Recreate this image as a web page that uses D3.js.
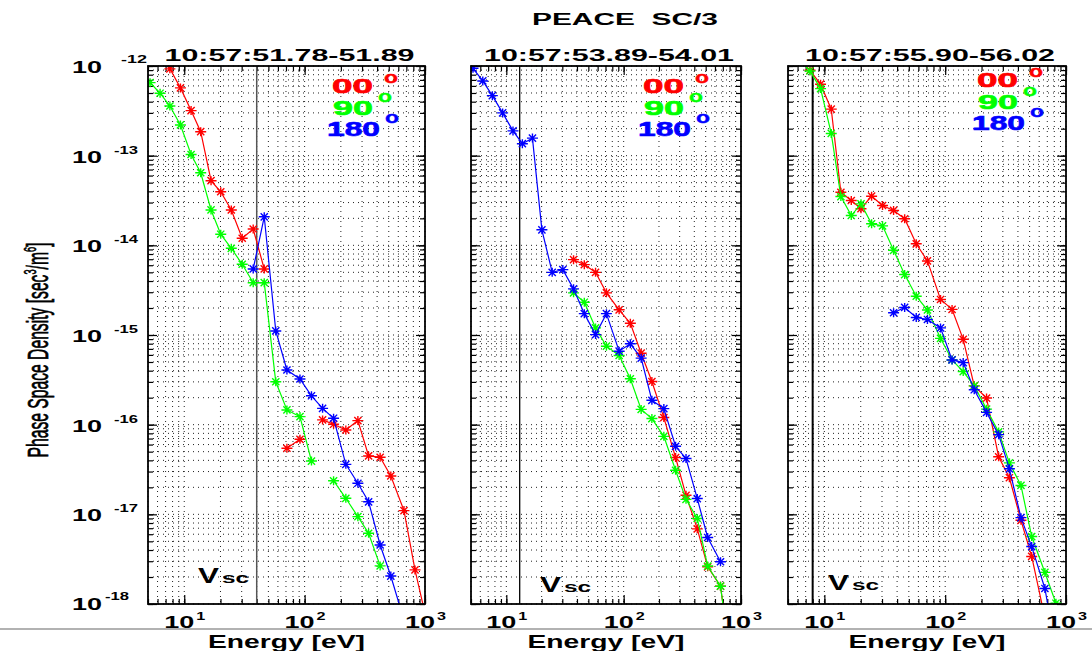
<!DOCTYPE html>
<html>
<head>
<meta charset="utf-8">
<script src="https://cdn.jsdelivr.net/npm/d3@7"></script>
<style>
  html, body { margin: 0; padding: 0; background: #fff; }
  svg { display: block; }
  text { font-family: "Liberation Sans", Arial, sans-serif; }
</style>
</head>
<body>
<script>
// ---------------- DATA ----------------
const title = "PEACE  SC/3";
const panelTimes = ["10:57:51.78-51.89", "10:57:53.89-54.01", "10:57:55.90-56.02"];
const energies = [5.2, 6.3, 7.6, 9.3, 11.4, 13.7, 16.7, 20.1, 24.6, 30.3, 37.4, 46.2, 57.6,
                  71.3, 91.5, 114, 141, 174, 220, 277, 340, 424, 520, 669, 826, 1020];
const vscEnergy = [40, 13, 8];
const seriesNames = ["00", "90", "180"];
const seriesColors = ["#ff0000", "#00ff00", "#0000ff"];
const xTickExponents = [1, 2, 3];
const yTickExponents = [-12, -13, -14, -15, -16, -17, -18];
const xLabel = "Energy [eV]";
const yLabel = "Phase Space Density [sec";

// panel 1 (10:57:51.78-51.89)
const red1 = [null, null, 9.3e-13, 5.7e-13, 3.18e-13, 1.85e-13, 5.26e-14, 3.96e-14, 2.48e-14, 1.2e-14,
  1.52e-14, 5.45e-15, null, 5.46e-17, 6.87e-17, null, 1.13e-16, 1.01e-16, 8.72e-17, 1.11e-16,
  4.48e-17, 4.33e-17, 2.68e-17, 1.1e-17, 2.4e-18, 7e-19];
const green1 = [6.52e-13, 4.97e-13, 3.58e-13, 2.2e-13, 1.03e-13, 6.45e-14, 2.48e-14, 1.33e-14, 9.27e-15, 6.15e-15,
  3.83e-15, 3.83e-15, 3.01e-16, 1.46e-16, 1.23e-16, 3.93e-17, null, 2.37e-17, 1.51e-17, 9.42e-18,
  6.15e-18, 2.66e-18, null, null, null, null];
const blue1 = [null, null, null, null, null, null, null, null, null, null,
  5.45e-15, 2.08e-14, 1.11e-15, 4.07e-16, 3.23e-16, 2.1e-16, 1.52e-16, 1.18e-16, 3.61e-17, 2.22e-17,
  1.38e-17, 4.55e-18, 2.05e-18, 6.6e-19, null, null];
// panel 2 (10:57:53.89-54.01)
const red2 = [null, null, null, null, null, null, null, null, null, null,
  6.92e-15, 6.09e-15, 5.0e-15, 2.95e-15, 1.91e-15, 1.35e-15, 6.27e-16, 3.03e-16, 1.2e-16, 4.3e-17,
  1.63e-17, 6.89e-18, 2.6e-18, 1.58e-18, 2e-19, null];
const green2 = [null, null, null, null, null, null, null, null, null, null,
  2.95e-15, 2.32e-15, 1.2e-15, 7.5e-16, 5.91e-16, 3.25e-16, 1.48e-16, 1.17e-16, 7.41e-17, 3.1e-17,
  1.47e-17, 9.0e-18, 2.65e-18, 1.58e-18, 2e-19, null];
const blue2 = [9.43e-13, 6.81e-13, 4.67e-13, 3.0e-13, 1.89e-13, 1.36e-13, 1.57e-13, 1.49e-14, 5.0e-15, 5.36e-15,
  3.27e-15, 1.73e-15, 1.01e-15, 1.73e-15, 6.6e-16, 7.98e-16, 5.52e-16, 1.87e-16, 1.51e-16, 5.74e-17,
  4.19e-17, 1.5e-17, 5.52e-18, 2.96e-18, null, null];
// panel 3 (10:57:55.90-56.02)
const red3 = [null, 1.15e-12, 8.96e-13, 6.27e-13, 3.3e-13, 3.91e-14, 3.16e-14, 2.56e-14, 3.53e-14, 2.78e-14,
  2.45e-14, 1.98e-14, 1.04e-14, 6.7e-15, 2.49e-15, 1.93e-15, 8.95e-16, 2.71e-16, 1.98e-16, 4.38e-17,
  2.56e-17, 8.58e-18, 3.39e-18, 7e-19, null, null];
const green3 = [null, 1.15e-12, 8.8e-13, 5.6e-13, 1.77e-13, 3.5e-14, 2.15e-14, 2.9e-14, 1.74e-14, 1.65e-14,
  8.8e-15, 4.72e-15, 2.71e-15, 1.9e-15, 9.18e-16, 5.27e-16, 3.91e-16, 2.71e-16, 1.49e-16, 8.3e-17,
  3.75e-17, 2.1e-17, 5.65e-18, 2.25e-18, 1.02e-18, null];
const blue3 = [null, null, null, null, null, null, null, null, null, null,
  1.77e-15, 2.03e-15, 1.57e-15, 1.49e-15, 1.2e-15, 5.27e-16, 4.92e-16, 2.45e-16, 1.37e-16, 7.74e-17,
  3.22e-17, 9.18e-18, 4.37e-18, 1.49e-18, 3e-19, null];

const panelSeries = [[red1, green1, blue1], [red2, green2, blue2], [red3, green3, blue3]];

// ---------------- LAYOUT ----------------
const W = 1092, H = 651;
const TOP = 66, BOTTOM = 604;
const panels = [
  { left: 148, right: 425, legX: 332, legY: 93, vscDx: 50, vscY: 583, vscColor: "#555", vscW: 1.5 },
  { left: 471, right: 741, legX: 643, legY: 93, vscDx: 69, vscY: 592, vscColor: "#000", vscW: 1.3 },
  { left: 788, right: 1066, legX: 977, legY: 87, vscDx: 40, vscY: 590, vscColor: "#000", vscW: 2 }
];

const svg = d3.select("body").append("svg").attr("width", W).attr("height", H);
svg.append("rect").attr("width", W).attr("height", H).attr("fill", "#fff");

// title
svg.append("text").attr("x", 625).attr("y", 25).attr("text-anchor", "middle")
  .attr("font-size", 16).attr("font-weight", "bold").attr("textLength", 186)
  .attr("lengthAdjust", "spacingAndGlyphs").style("white-space", "pre").text(title);

// separator line
svg.append("line").attr("x1", 0).attr("x2", W).attr("y1", 629).attr("y2", 629)
  .attr("stroke", "#999").attr("stroke-width", 1.5);

const starPath = "M-5.5,0H5.5M0,-4.5V4.5M-3.6,-3.6L3.6,3.6M-3.6,3.6L3.6,-3.6";

function minorValues(lo, hi) {
  const out = [];
  for (let e = Math.floor(Math.log10(lo)); e <= Math.ceil(Math.log10(hi)); e++) {
    for (let k = 1; k <= 9; k++) {
      const v = k * Math.pow(10, e);
      if (v >= lo * 0.999 && v <= hi * 1.001) out.push(v);
    }
  }
  return out;
}

panels.forEach((p, pi) => {
  const x = d3.scaleLog().domain([5, 1000]).range([p.left, p.right]);
  const y = d3.scaleLog().domain([1e-18, 1e-12]).range([BOTTOM, TOP]);
  const g = svg.append("g");

  const xAll = minorValues(5, 1000);
  const yAll = minorValues(1e-18, 1e-12);
  const xMajor = xAll.filter(v => Math.abs(Math.log10(v) - Math.round(Math.log10(v))) < 1e-9);
  const yMajor = yAll.filter(v => Math.abs(Math.log10(v) - Math.round(Math.log10(v))) < 1e-9);

  // dotted grid
  g.append("g").selectAll("line").data(xAll).join("line")
    .attr("x1", d => x(d)).attr("x2", d => x(d)).attr("y1", TOP).attr("y2", BOTTOM)
    .attr("stroke", "#222").attr("stroke-width", 1).attr("stroke-dasharray", "1,4");
  g.append("g").selectAll("line").data(yAll).join("line")
    .attr("y1", d => y(d)).attr("y2", d => y(d)).attr("x1", p.left).attr("x2", p.right)
    .attr("stroke", "#222").attr("stroke-width", 1).attr("stroke-dasharray", "1,4");

  // ticks (inward) via d3 axes
  const axMinorLen = 5, axMajorLen = 9;
  const mkAxis = (axisFn, scale, vals, len, tx, ty) => {
    const a = g.append("g").attr("transform", `translate(${tx},${ty})`)
      .call(axisFn(scale).tickValues(vals).tickSize(len).tickFormat(""));
    a.select(".domain").remove();
    a.selectAll("line").attr("stroke", "#000").attr("stroke-width", 1.2);
  };
  mkAxis(d3.axisLeft, y, yAll, -axMinorLen, p.left, 0);
  mkAxis(d3.axisLeft, y, yMajor, -axMajorLen, p.left, 0);
  mkAxis(d3.axisRight, y, yAll, -axMinorLen, p.right, 0);
  mkAxis(d3.axisRight, y, yMajor, -axMajorLen, p.right, 0);
  mkAxis(d3.axisBottom, x, xAll, -axMinorLen, 0, BOTTOM);
  mkAxis(d3.axisBottom, x, xMajor, -axMajorLen, 0, BOTTOM);
  mkAxis(d3.axisTop, x, xAll, -axMinorLen, 0, TOP);
  mkAxis(d3.axisTop, x, xMajor, -axMajorLen, 0, TOP);

  // Vsc line
  g.append("line").attr("x1", x(vscEnergy[pi])).attr("x2", x(vscEnergy[pi]))
    .attr("y1", TOP).attr("y2", BOTTOM).attr("stroke", p.vscColor).attr("stroke-width", p.vscW);

  // clip
  const clipId = "clip" + pi;
  svg.append("clipPath").attr("id", clipId).append("rect")
    .attr("x", p.left).attr("y", TOP).attr("width", p.right - p.left).attr("height", BOTTOM - TOP);
  const dg = g.append("g").attr("clip-path", `url(#${clipId})`);

  panelSeries[pi].forEach((vals, si) => {
    const pts = energies.map((e, i) => ({ e: e, v: vals[i] }));
    const line = d3.line().defined(d => d.v != null).x(d => x(d.e)).y(d => y(d.v));
    dg.append("path").attr("d", line(pts)).attr("fill", "none")
      .attr("stroke", seriesColors[si]).attr("stroke-width", 1.2);
    dg.append("g").selectAll("path").data(pts.filter(d => d.v != null)).join("path")
      .attr("transform", d => `translate(${x(d.e)},${y(d.v)})`)
      .attr("d", starPath).attr("fill", "none")
      .attr("stroke", seriesColors[si]).attr("stroke-width", 1.4);
  });

  // frame
  g.append("rect").attr("x", p.left).attr("y", TOP).attr("width", p.right - p.left)
    .attr("height", BOTTOM - TOP).attr("fill", "none").attr("stroke", "#000").attr("stroke-width", 1.8);

  // subtitle
  svg.append("text").attr("x", (p.left + p.right) / 2 + 3).attr("y", 61)
    .attr("text-anchor", "middle").attr("font-size", 17).attr("font-weight", "bold")
    .attr("textLength", 250).attr("lengthAdjust", "spacingAndGlyphs").text(panelTimes[pi]);

  // legend
  const legOff = [{ dx: 0, dy: 0, w: 41, odx: 52, ody: -10 },
                  { dx: 1, dy: 22, w: 40, odx: 46, ody: 9 },
                  { dx: -5, dy: 43, w: 53, odx: 53, ody: 30 }];
  seriesNames.forEach((nm, si) => {
    const o = legOff[si];
    svg.append("text").attr("x", p.legX + o.dx).attr("y", p.legY + o.dy)
      .attr("font-size", 20).attr("font-weight", "bold").attr("fill", seriesColors[si])
      .attr("stroke", seriesColors[si]).attr("stroke-width", 0.6)
      .attr("textLength", o.w).attr("lengthAdjust", "spacingAndGlyphs").text(nm);
    svg.append("text").attr("x", p.legX + o.odx).attr("y", p.legY + o.ody)
      .attr("font-size", 17).attr("font-weight", "bold").attr("fill", seriesColors[si])
      .attr("stroke", seriesColors[si]).attr("stroke-width", 0.4)
      .attr("textLength", 14).attr("lengthAdjust", "spacingAndGlyphs").text("o");
  });

  // Vsc label
  const vx = p.left + p.vscDx;
  svg.append("text").attr("x", vx).attr("y", p.vscY).attr("font-size", 22)
    .attr("font-weight", "bold").attr("textLength", 21).attr("lengthAdjust", "spacingAndGlyphs").text("V");
  svg.append("text").attr("x", vx + 24).attr("y", p.vscY).attr("font-size", 14)
    .attr("font-weight", "bold").attr("textLength", 27).attr("lengthAdjust", "spacingAndGlyphs").text("SC".toLowerCase());

  // x tick labels
  xTickExponents.forEach(ex => {
    const tx = x(Math.pow(10, ex));
    svg.append("text").attr("x", tx - 20).attr("y", 628).attr("font-size", 16)
      .attr("font-weight", "bold").attr("textLength", 30).attr("lengthAdjust", "spacingAndGlyphs").text("10");
    svg.append("text").attr("x", tx + 12).attr("y", 620).attr("font-size", 11)
      .attr("font-weight", "bold").attr("textLength", 9).attr("lengthAdjust", "spacingAndGlyphs").text(String(ex));
  });

  // x axis title
  svg.append("text").attr("x", (p.left + p.right) / 2).attr("y", 648).attr("text-anchor", "middle")
    .attr("font-size", 18).attr("font-weight", "bold").attr("textLength", 157)
    .attr("lengthAdjust", "spacingAndGlyphs").text(xLabel);

  // y tick labels (first panel only)
  if (pi === 0) {
    yTickExponents.forEach((ex, i) => {
      const ty = y(Math.pow(10, ex));
      const last = i === yTickExponents.length - 1, first = i === 0;
      svg.append("text").attr("x", 72).attr("y", ty + (last ? 6 : 7)).attr("font-size", 16)
        .attr("font-weight", "bold").attr("textLength", 30).attr("lengthAdjust", "spacingAndGlyphs").text("10");
      svg.append("text").attr("x", first ? 121 : (last ? 105 : 114)).attr("y", ty + (first ? -3 : (last ? -4 : -2)))
        .attr("font-size", 11).attr("font-weight", "bold")
        .attr("textLength", first ? 26 : 24).attr("lengthAdjust", "spacingAndGlyphs").text(String(ex));
    });
  }
});

// y axis title (rotated, condensed by horizontal scaling)
const ylg = svg.append("g");
const yl = ylg.append("text").attr("x", 0).attr("y", 0)
  .attr("text-anchor", "middle").attr("font-size", 29)
  .attr("stroke", "#000").attr("stroke-width", 0.7)
  .style("font-family", "'Liberation Sans Narrow', 'Liberation Sans', sans-serif");
yl.append("tspan").text(yLabel);
yl.append("tspan").attr("dy", -12).attr("font-size", 17).text("3");
yl.append("tspan").attr("dy", 12).text("/m");
yl.append("tspan").attr("dy", -12).attr("font-size", 17).text("6");
yl.append("tspan").attr("dy", 12).text("]");
const natLen = yl.node().getComputedTextLength() || 300;
const sx = 215 / natLen;
ylg.attr("transform", `translate(48,350) rotate(-90) scale(${sx},1)`);
</script>
</body>
</html>
